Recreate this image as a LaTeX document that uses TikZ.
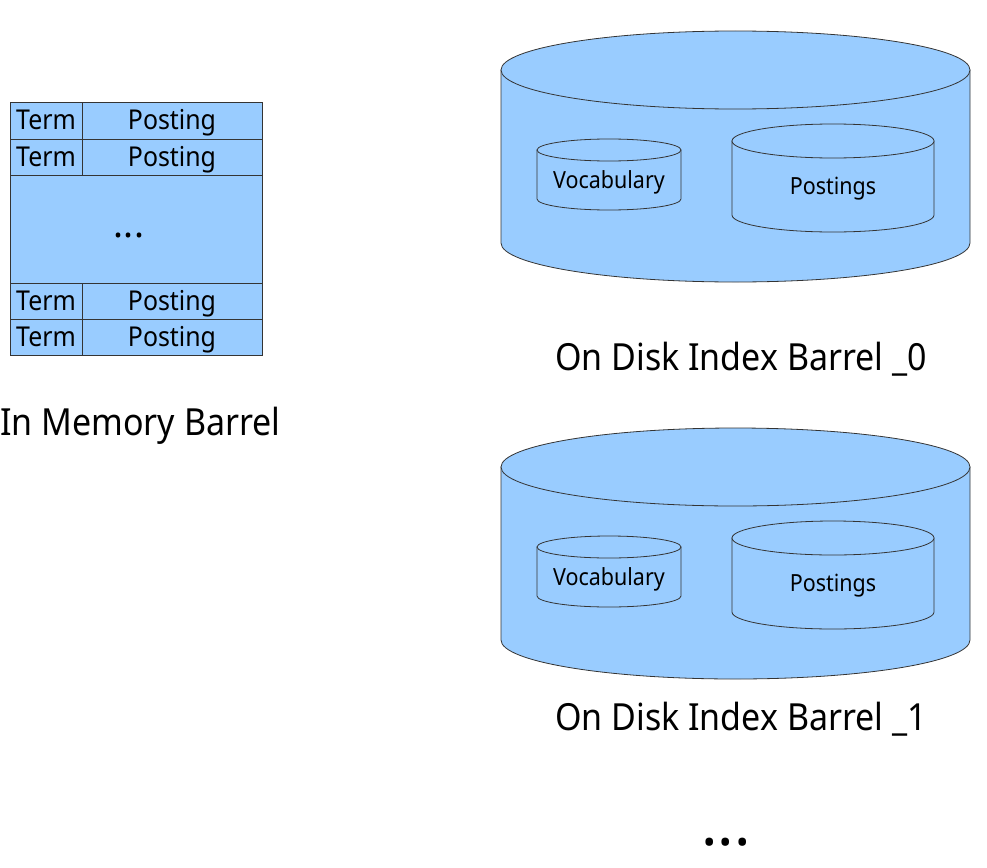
\documentclass[tikz,border=0pt]{standalone}
\usepackage{fontspec}
\setmainfont{Noto Sans}[FakeStretch=0.91]
\newfontfamily\dotfont{Noto Sans}
\usepackage{tikz}

\definecolor{barrelblue}{RGB}{153,204,255}
\definecolor{edgegray}{RGB}{52,52,52}

\tikzset{
  shell/.style={draw=edgegray, line width=0.6pt, fill=barrelblue},
  celltext/.style={inner sep=0pt, anchor=base, font=\fontsize{20.5}{24}\selectfont},
  drumtext/.style={inner sep=0pt, anchor=base, font=\fontsize{17.7}{21}\selectfont},
  caption/.style={inner sep=0pt, anchor=base, font=\fontsize{28}{33}\selectfont}
}

\begin{document}
\begin{tikzpicture}[x=0.75pt, y=-0.75pt]
        \useasboundingbox (0,0) rectangle (987,867);

        % in memory barrel
        \draw [shell]  (10,102) rectangle (262,139);
        \draw [shell]  (10,139) rectangle (262,175);
        \draw [shell]  (10,175) rectangle (262,283);
        \draw [shell]  (10,283) rectangle (262,319);
        \draw [shell]  (10,319) rectangle (262,355);
        \draw [edgegray, line width=0.6pt] (82,102) -- (82,175);
        \draw [edgegray, line width=0.6pt] (82,283) -- (82,355);

        \node [celltext] (term1) at (46,129) {Term};
        \node [celltext] (post1) at (172,129) {Posting};
        \node [celltext] (term2) at (46,166) {Term};
        \node [celltext] (post2) at (172,166) {Posting};
        \node [caption, font=\dotfont\fontsize{28}{33}\selectfont] (gap) at (129,237) {...};
        \node [celltext] (term3) at (46,310) {Term};
        \node [celltext] (post3) at (172,310) {Posting};
        \node [celltext] (term4) at (46,346) {Term};
        \node [celltext] (post4) at (172,346) {Posting};
        \node [caption]  (memory) at (140.5,435) {In Memory Barrel};

        % on disk barrel 0
        \draw [shell]  (501,70) -- (501,243) arc [start angle=180, end angle=0, x radius=234.5, y radius=39] -- (970,70) -- cycle;
        \draw [shell]  (735.5,70) ellipse [x radius=234.5, y radius=39];
        \draw [shell]  (537,150) -- (537,199) arc [start angle=180, end angle=0, x radius=72, y radius=11] -- (681,150) -- cycle;
        \draw [shell]  (609,150) ellipse [x radius=72, y radius=11];
        \draw [shell]  (732,141) -- (732,215) arc [start angle=180, end angle=0, x radius=101, y radius=17] -- (934,141) -- cycle;
        \draw [shell]  (833,141) ellipse [x radius=101, y radius=17];
        \node [drumtext] (vocab0) at (609,188) {Vocabulary};
        \node [drumtext] (posts0) at (833,194) {Postings};
        \node [caption]  (disk0)  at (741,370) {On Disk Index Barrel \_0};

        % on disk barrel 1
        \draw [shell]  (501,467) -- (501,640) arc [start angle=180, end angle=0, x radius=234.5, y radius=39] -- (970,467) -- cycle;
        \draw [shell]  (735.5,467) ellipse [x radius=234.5, y radius=39];
        \draw [shell]  (537,547) -- (537,596) arc [start angle=180, end angle=0, x radius=72, y radius=11] -- (681,547) -- cycle;
        \draw [shell]  (609,547) ellipse [x radius=72, y radius=11];
        \draw [shell]  (732,538) -- (732,612) arc [start angle=180, end angle=0, x radius=101, y radius=17] -- (934,538) -- cycle;
        \draw [shell]  (833,538) ellipse [x radius=101, y radius=17];
        \node [drumtext] (vocab1) at (609,585) {Vocabulary};
        \node [drumtext] (posts1) at (833,591) {Postings};
        \node [caption]  (disk1)  at (741,730) {On Disk Index Barrel \_1};

        \node [inner sep=0pt, anchor=base, font=\dotfont\fontsize{46}{54}\selectfont] (more) at (726,845) {...};
\end{tikzpicture}
\end{document}
